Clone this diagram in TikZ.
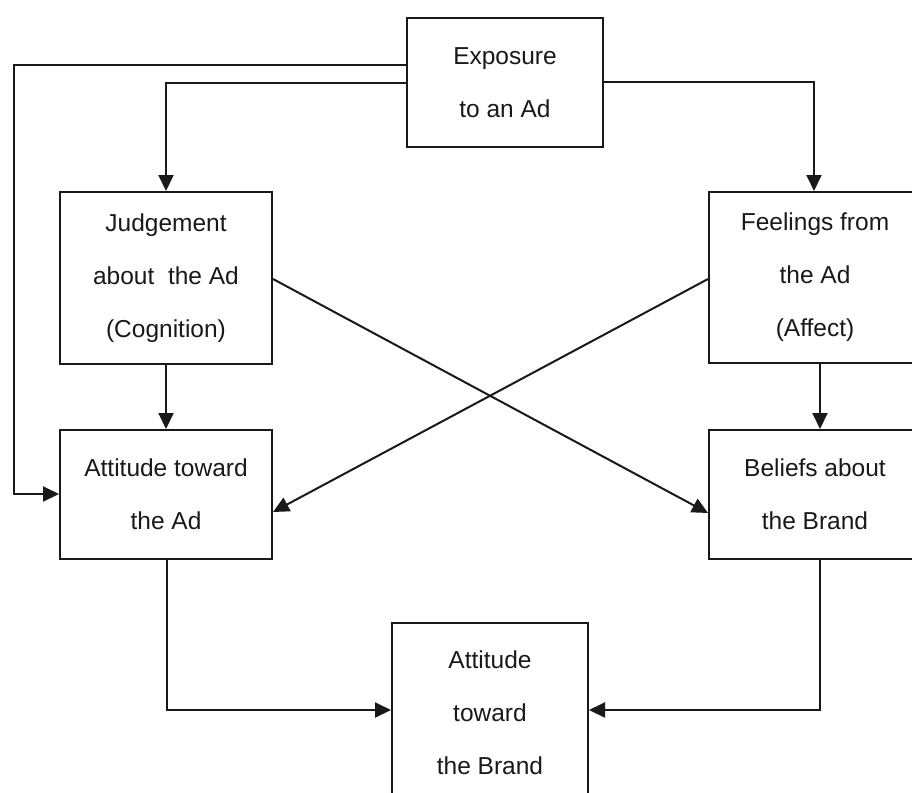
\documentclass[tikz,border=0pt]{standalone}
\usepackage{fontspec}
\setmainfont{Liberation Sans}
\usetikzlibrary{arrows.meta}
\begin{document}
\begin{tikzpicture}[x=1pt,y=-1pt,
  box/.style={draw=black!90, line width=2pt, rectangle, inner sep=0pt,
    align=center, font=\fontsize{24.5}{53}\selectfont, text=black!90},
  link/.style={draw=black!90, line width=2pt,
    -{Triangle[length=16pt,width=15pt]}}]
\useasboundingbox (0,0) rectangle (912,792);

% boxes (centre, width, height)
\node[box, minimum width=196pt, minimum height=129pt] (expo) at (505,82.5)
  {Exposure\\to an Ad};
\node[box, minimum width=212pt, minimum height=172pt] (judg) at (166,278)
  {Judgement\\about\ \ the Ad\\(Cognition)};
\node[box, minimum width=212pt, minimum height=171pt] (feel) at (815,277.5)
  {Feelings from\\the Ad\\(Affect)};
\node[box, minimum width=212pt, minimum height=129pt] (aad) at (166,494.5)
  {Attitude toward\\the Ad};
\node[box, minimum width=212pt, minimum height=129pt] (bel) at (815,494.5)
  {Beliefs about\\the Brand};
\node[box, minimum width=196pt, minimum height=180pt] (abr) at (490,713)
  {Attitude\\toward\\the Brand};

% exposure feeds both appraisals and, directly, the attitude toward the ad
\draw[link] (expo.west |- 0,65) -- (14,65) -- (14,494) -- (aad.west |- 0,494);
\draw[link] (expo.west |- 0,83) -- (166,83) -- (judg.north);
\draw[link] (expo.east |- 0,82) -- (814,82) -- (814,0 |- feel.north);

% vertical steps
\draw[link] (judg.south) -- (aad.north);
\draw[link] (820,0 |- feel.south) -- (820,0 |- bel.north);

% crossing paths
\draw[link] (judg.east |- 0,279) -- (bel.west |- 0,513);
\draw[link] (feel.west |- 0,279) -- (aad.east |- 0,512);

% into the attitude toward the brand
\draw[link] (167,0 |- aad.south) -- (167,710) -- (abr.west |- 0,710);
\draw[link] (820,0 |- bel.south) -- (820,710) -- (abr.east |- 0,710);
\end{tikzpicture}
\end{document}
